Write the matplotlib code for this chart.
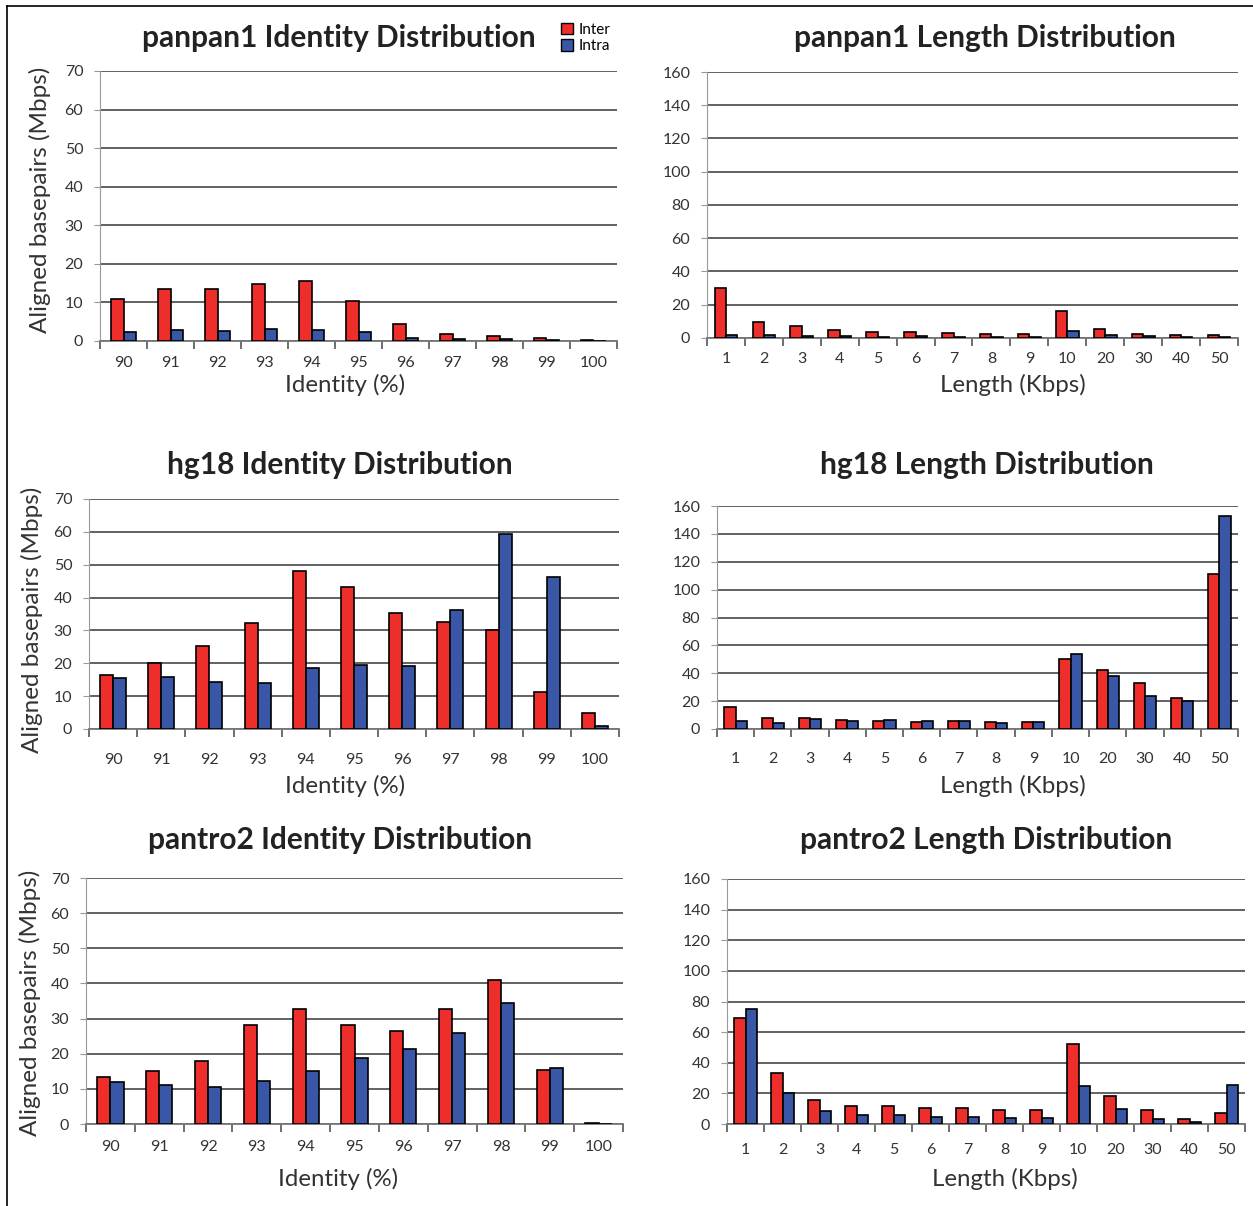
import matplotlib
matplotlib.use("Agg")
import matplotlib.pyplot as plt
from matplotlib.lines import Line2D
from matplotlib.patches import Patch
import numpy as np

plt.rcParams['font.family'] = ['Lato', 'DejaVu Sans']

# category labels
identity_labels = ["90", "91", "92", "93", "94", "95", "96", "97", "98", "99", "100"]
length_labels = ["1", "2", "3", "4", "5", "6", "7", "8", "9", "10", "20", "30", "40", "50"]

# panpan1
panpan1_id_inter = [11.0, 13.5, 13.5, 14.7, 15.5, 10.5, 4.5, 1.7, 1.3, 0.8, 0.3]
panpan1_id_intra = [2.4, 2.8, 2.6, 3.1, 2.8, 2.3, 0.9, 0.5, 0.4, 0.2, 0.1]
panpan1_len_inter = [30, 9.5, 7, 5, 3.5, 3.5, 3, 2.5, 2.5, 16, 5.5, 2.5, 1.8, 1.8]
panpan1_len_intra = [2, 1.8, 1.2, 1.2, 0.8, 1.2, 0.8, 0.8, 0.8, 4.5, 1.8, 1.2, 0.5, 0.5]

# hg18
hg18_id_inter = [16.5, 20, 25.3, 32.2, 48.2, 43.3, 35.2, 32.5, 30, 11.2, 5]
hg18_id_intra = [15.5, 15.8, 14.3, 14, 18.5, 19.5, 19.3, 36.2, 59.4, 46.4, 1]
hg18_len_inter = [16, 8, 8, 6.5, 5.5, 5, 5.5, 5, 5, 50, 42.5, 33, 22, 111.5]
hg18_len_intra = [5.5, 4.5, 7, 5.5, 6.5, 5.5, 5.5, 4.5, 5, 54, 38, 23.5, 20, 152.5]

# pantro2
pantro2_id_inter = [13.5, 15.2, 17.8, 28.2, 32.8, 28.2, 26.5, 32.7, 41, 15.5, 0.2]
pantro2_id_intra = [12, 11.2, 10.6, 12.2, 15, 18.8, 21.4, 26, 34.4, 15.8, 0.1]
pantro2_len_inter = [69, 33, 16, 12, 12, 10.5, 10.5, 9, 9, 52.5, 18.5, 9, 3.5, 7.5]
pantro2_len_intra = [75, 20, 8.5, 6, 6, 4.5, 4.5, 4, 4, 25, 10, 3.5, 1.5, 25.5]

RED = "#EE2E2A"
BLUE = "#3A56A6"
W, H = 1253, 1206

fig = plt.figure(figsize=(W / 100, H / 100), dpi=100)


def px_axes(left, top, right, bottom):
    return fig.add_axes([left / W, 1 - bottom / H, (right - left) / W, (bottom - top) / H])


def draw_panel(ax, labels, inter, intra, ymax, ystep, bw, xpad):
    x = np.arange(len(labels))
    ax.bar(x - bw / 2, inter, bw, color=RED, edgecolor="black", linewidth=1.2, zorder=3)
    ax.bar(x + bw / 2, intra, bw, color=BLUE, edgecolor="black", linewidth=1.2, zorder=3)
    ax.set_xlim(-0.5, len(labels) - 0.5)
    ax.set_ylim(0, ymax)
    ax.set_yticks(np.arange(0, ymax + 1, ystep))
    ax.yaxis.grid(True, color="#555555", linewidth=1.3, zorder=0)
    ax.set_axisbelow(True)
    for s in ["top", "right"]:
        ax.spines[s].set_visible(False)
    ax.spines["left"].set_color("#999999")
    ax.spines["bottom"].set_color("#777777")
    ax.spines["bottom"].set_linewidth(1.3)
    # tick marks between categories, labels at centers
    ax.set_xticks(np.arange(-0.5, len(labels) + 0.5, 1))
    ax.set_xticklabels([])
    ax.set_xticks(x, minor=True)
    ax.set_xticklabels(labels, minor=True)
    ax.tick_params(axis="x", which="major", length=6, color="#555555", width=1.2)
    ax.tick_params(axis="x", which="minor", length=0, labelsize=11.5, pad=xpad, labelcolor="#333333")
    ax.tick_params(axis="y", length=4, color="#999999", labelsize=11.5, labelcolor="#333333", pad=8)


panels = [
    ((100, 71, 617, 341), identity_labels, panpan1_id_inter, panpan1_id_intra, 70, 10, 0.27, 11),
    ((707, 72, 1238, 338), length_labels, panpan1_len_inter, panpan1_len_intra, 160, 20, 0.3, 10.3),
    ((89, 499, 619, 729), identity_labels, hg18_id_inter, hg18_id_intra, 70, 10, 0.27, 17.5),
    ((717, 506, 1238, 729), length_labels, hg18_len_inter, hg18_len_intra, 160, 20, 0.3, 16.8),
    ((86, 878, 623, 1124), identity_labels, pantro2_id_inter, pantro2_id_intra, 70, 10, 0.27, 11.8),
    ((727, 879, 1245, 1124), length_labels, pantro2_len_inter, pantro2_len_intra, 160, 20, 0.3, 14),
]

for box, labels, inter, intra, ymax, ystep, bw, xpad in panels:
    ax = px_axes(*box)
    draw_panel(ax, labels, inter, intra, ymax, ystep, bw, xpad)

# titles
titles = [
    ("panpan1 Identity Distribution", 339, 38),
    ("panpan1 Length Distribution", 985, 38),
    ("hg18 Identity Distribution", 340, 465),
    ("hg18 Length Distribution", 987, 465),
    ("pantro2 Identity Distribution", 340, 840),
    ("pantro2 Length Distribution", 986, 840),
]
for t, xp, yp in titles:
    fig.text(xp / W, 1 - yp / H, t, ha="center", va="center", fontsize=21.5,
             fontweight="bold", color="#222222")

# x labels
xlabels = [
    ("Identity (%)", 345, 385), ("Length (Kbps)", 1013, 385),
    ("Identity (%)", 345, 786), ("Length (Kbps)", 1013, 786),
    ("Identity (%)", 338, 1179), ("Length (Kbps)", 1005, 1179),
]
for t, xp, yp in xlabels:
    fig.text(xp / W, 1 - yp / H, t, ha="center", va="center", fontsize=17.3, color="#333333")

# y labels
for xp, yp in [(40, 200), (32, 620), (30, 1003)]:
    fig.text(xp / W, 1 - yp / H, "Aligned basepairs (Mbps)", ha="center", va="center",
             rotation=90, fontsize=17.5, color="#333333")

# legend for the first panel
handles = [Patch(facecolor=RED, edgecolor="black", label="Inter"),
           Patch(facecolor=BLUE, edgecolor="black", label="Intra")]
fig.legend(handles=handles, loc="upper left", bbox_to_anchor=(550 / W, 1 - 12 / H),
           frameon=False, fontsize=11, handlelength=0.8, handleheight=0.8,
           handletextpad=0.4, labelspacing=0.15, borderpad=0.2)

# frame lines at top and left of the figure
fig.add_artist(Line2D([7 / W, 1], [1 - 6 / H, 1 - 6 / H], color="black", linewidth=1.2))
fig.add_artist(Line2D([7 / W, 7 / W], [0, 1 - 6 / H], color="black", linewidth=1.2))

fig.savefig("out.png", dpi=100)
